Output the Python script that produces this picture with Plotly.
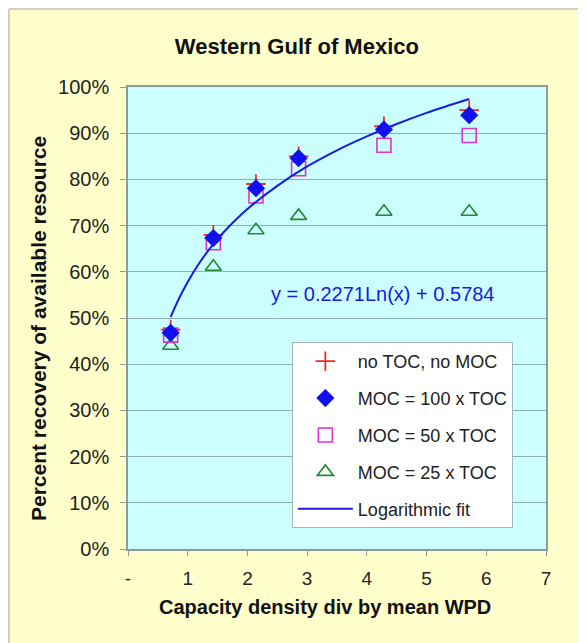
import plotly.graph_objects as go

# Data
x_vals = [0.714, 1.429, 2.143, 2.857, 4.286, 5.714]
no_toc = [0.475, 0.68, 0.79, 0.85, 0.915, 0.95]
moc_100 = [0.468, 0.673, 0.781, 0.846, 0.908, 0.939]
moc_50 = [0.463, 0.663, 0.764, 0.823, 0.874, 0.895]
moc_25 = [0.44, 0.611, 0.690, 0.721, 0.730, 0.730]
fit_x = [0.714, 0.85, 1.0, 1.2, 1.429, 1.7, 2.0, 2.5, 3.0, 3.5, 4.0, 4.5, 5.0, 5.714]
fit_y = [0.502, 0.541, 0.578, 0.620, 0.660, 0.699, 0.736, 0.786, 0.828, 0.863, 0.893, 0.920, 0.944, 0.974]
x_ticks = [0, 1, 2, 3, 4, 5, 6, 7]
x_ticktext = ["-", "1", "2", "3", "4", "5", "6", "7"]

FONT = "Arial, Liberation Sans, sans-serif"
W, H = 586, 643
ML, MR, MT, MB = 120, 48, 79, 102
PW, PH = W - ML - MR, H - MT - MB

fig = go.Figure()
fig.add_trace(go.Scatter(x=x_vals, y=moc_25, mode="markers", name="MOC = 25 x TOC",
                         legendrank=4, legendgroup="d",
                         marker=dict(symbol="triangle-up-open", size=14, color="#1f8a2e", line=dict(width=1.6))))
fig.add_trace(go.Scatter(x=x_vals, y=moc_50, mode="markers", name="MOC = 50 x TOC",
                         legendrank=3, legendgroup="c",
                         marker=dict(symbol="square-open", size=14, color="#e030d8", line=dict(width=1.6))))
fig.add_trace(go.Scatter(x=x_vals, y=no_toc, mode="markers", name="no TOC, no MOC",
                         legendrank=1, legendgroup="a",
                         marker=dict(symbol="cross-thin", size=14, color="#e8302a", line=dict(width=1.8, color="#e8302a"))))
fig.add_trace(go.Scatter(x=x_vals, y=moc_100, mode="markers", name="MOC = 100 x TOC",
                         legendrank=2, legendgroup="b",
                         marker=dict(symbol="diamond", size=14, color="#1010ee")))
fig.add_trace(go.Scatter(x=fit_x, y=fit_y, mode="lines", name="Logarithmic fit",
                         legendrank=5, legendgroup="e",
                         line=dict(color="#1a1ae0", width=2, shape="spline")))

fig.update_layout(
    width=W, height=H,
    margin=dict(l=ML, r=MR, t=MT, b=MB),
    paper_bgcolor="#FFFFCC",
    plot_bgcolor="#CCFFFF",
    font=dict(family=FONT, size=19, color="#222222"),
    title=dict(text="<b>Western Gulf of Mexico</b>", x=0.493, xref="container", xanchor="center",
               y=1 - 38 / H, yanchor="middle", font=dict(size=22, color="#111111")),
    showlegend=True,
    legend=dict(x=0.392, y=0.448, xanchor="left", yanchor="top",
                bgcolor="white", bordercolor="#a8b4b4", borderwidth=1,
                font=dict(size=18, color="#222222"), tracegroupgap=10.5,
                traceorder="grouped", itemwidth=55),
    xaxis=dict(range=[0, 7], tickvals=x_ticks, ticktext=x_ticktext, showgrid=False,
               showline=True, linecolor="#8c9c9c", linewidth=1.5, mirror=True,
               ticks="outside", ticklen=5, tickcolor="#8c9c9c", zeroline=False,
               ticklabelstandoff=6, tickfont=dict(size=19)),
    yaxis=dict(range=[0, 1], dtick=0.1, tickformat=".0%", showgrid=True, gridcolor="#8fb0b0",
               gridwidth=1, showline=True, linecolor="#8c9c9c", linewidth=1.5, mirror=True,
               ticks="outside", ticklen=6, tickcolor="#8c9c9c", zeroline=False,
               ticklabelstandoff=7, tickfont=dict(size=20)),
    annotations=[
        dict(text="y = 0.2271Ln(x) + 0.5784", x=4.27, y=0.552, xref="x", yref="y",
             showarrow=False, font=dict(size=20, color="#1a1ae0")),
        dict(text="<b>Capacity density div by mean WPD</b>", x=(325 - 128) / PW, y=-(607 - 549) / PH,
             xref="paper", yref="paper", xanchor="center", yanchor="middle", showarrow=False,
             font=dict(size=20, color="#111111")),
        dict(text="<b>Percent recovery of available resource</b>", x=(38 - 128) / PW, y=1 - (329 - 87) / PH,
             xref="paper", yref="paper", xanchor="center", yanchor="middle", showarrow=False,
             textangle=-90, font=dict(size=21, color="#111111")),
    ],
    shapes=[
        dict(type="line", xref="paper", yref="paper", x0=-(ML - 1) / PW, x1=1.2,
             y0=1 + (MT - 1) / PH, y1=1 + (MT - 1) / PH, line=dict(color="#c0c0b8", width=1.5)),
        dict(type="line", xref="paper", yref="paper", x0=-(ML - 1) / PW, x1=-(ML - 1) / PW,
             y0=-0.3, y1=1 + (MT - 1) / PH, line=dict(color="#c0c0b8", width=1.5)),
    ],
)

fig.write_html("out.html")
